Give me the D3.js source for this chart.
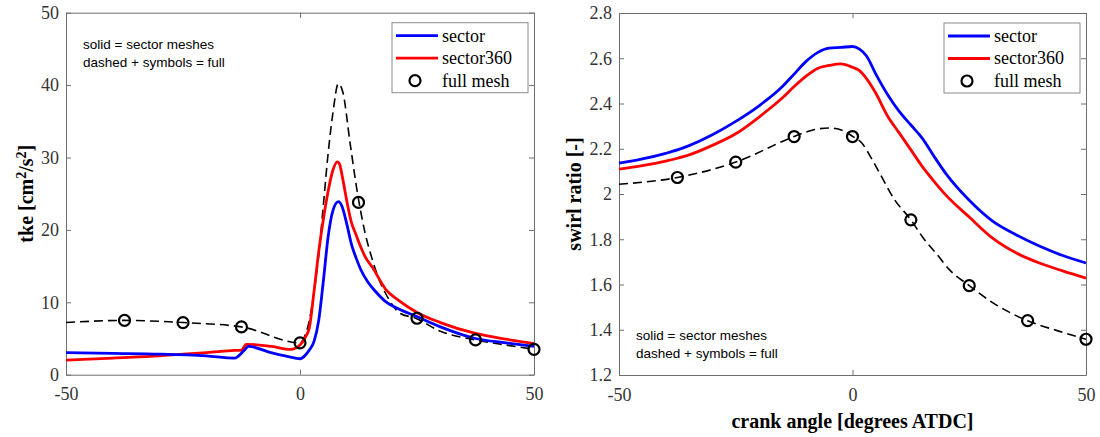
<!DOCTYPE html>
<html>
<head>
<meta charset="utf-8">
<script src="https://cdn.jsdelivr.net/npm/d3@7"></script>
<style>
body { margin: 0; background: #fff; }
</style>
</head>
<body>
<div id="chart"></div>
<script>
// ---- data ----
var seriesNames = ["sector", "sector360", "full mesh"]

// left panel: tke
var tkeSectorX = [-50, -40, -30, -20, -14, -12, -11, -6, -1, 0, 1, 2, 3, 4, 5, 6, 7, 8.2, 9, 10, 11, 12, 13, 14.5, 16, 18.3, 21, 24.7, 30, 37.5, 44, 50]
var tkeSectorY = [3.05, 2.95, 2.85, 2.6, 2.3, 3.3, 3.9, 3.0, 2.3, 2.2, 2.6, 3.4, 4.6, 7.5, 13.0, 19.0, 22.6, 23.9, 23.2, 20.8, 18.0, 16.1, 14.5, 12.8, 11.6, 10.1, 9.1, 8.1, 6.6, 5.0, 4.4, 3.9]

var tkeSector360X = [-50, -40, -30, -25, -20, -14, -12.5, -11.5, -6, -2, 0, 1, 2, 3, 4, 5, 6, 7, 8, 8.5, 9, 10, 11, 12, 13, 14, 15.5, 18.3, 21, 25, 30, 37.5, 44, 50]
var tkeSector360Y = [2.0, 2.3, 2.6, 2.85, 3.05, 3.35, 3.4, 4.2, 3.9, 3.5, 4.1, 5.0, 6.5, 11.5, 17.0, 21.5, 25.3, 28.2, 29.4, 29.0, 27.5, 24.0, 21.0, 19.3, 17.6, 16.2, 14.8, 11.8, 10.3, 8.6, 7.2, 5.7, 4.9, 4.3]

var tkeFullX = [-50, -37.5, -25, -12.5, 0, 1, 2, 3, 4, 5, 6, 7, 8.2, 9.2, 10.7, 12.3, 13.9, 15.5, 16.4, 19.1, 21.3, 24.7, 30, 37.5, 44, 50]
var tkeFullY = [7.2, 7.5, 7.2, 6.6, 4.4, 5.3, 7.5, 11.5, 16.5, 23.5, 30.5, 36.0, 40.2, 38.9, 32.0, 25.0, 19.6, 15.8, 14.0, 10.3, 8.5, 7.8, 6.0, 4.8, 4.1, 3.5]

var tkeMarkX = [-37.5, -25, -12.5, 0, 12.5, 25, 37.5, 50]
var tkeMarkY = [7.5, 7.2, 6.6, 4.4, 23.8, 7.8, 4.8, 3.5]

// right panel: swirl ratio
var swirlX = [-50, -45, -40, -37.5, -35, -30, -25, -20, -15, -12.5, -10, -7.5, -5, -2.5, 0, 1.5, 3, 5, 7.5, 10, 12.5, 15, 17.5, 20, 25, 30, 35, 40, 45, 50]
var swirlSector = [2.136, 2.155, 2.18, 2.195, 2.214, 2.262, 2.321, 2.39, 2.475, 2.53, 2.585, 2.625, 2.645, 2.648, 2.652, 2.64, 2.61, 2.53, 2.44, 2.365, 2.305, 2.245, 2.165, 2.09, 1.972, 1.88, 1.82, 1.77, 1.728, 1.695]
var swirlSector360 = [2.110, 2.125, 2.145, 2.158, 2.173, 2.215, 2.266, 2.34, 2.425, 2.475, 2.52, 2.555, 2.568, 2.575, 2.56, 2.545, 2.51, 2.445, 2.345, 2.27, 2.195, 2.12, 2.055, 1.995, 1.898, 1.805, 1.74, 1.695, 1.66, 1.628]

var swirlFullX = [-50, -37.5, -25, -12.5, -9, -5, -2, 0, 2, 4, 6, 9, 12.5, 15, 18, 21, 25, 30, 37.5, 44, 50]
var swirlFullY = [2.043, 2.073, 2.141, 2.254, 2.28, 2.292, 2.28, 2.255, 2.225, 2.16, 2.085, 1.975, 1.886, 1.81, 1.735, 1.66, 1.595, 1.52, 1.44, 1.395, 1.358]

var swirlMarkX = [-37.5, -25, -12.5, 0, 12.5, 25, 37.5, 50]
var swirlMarkY = [2.073, 2.141, 2.254, 2.254, 1.886, 1.595, 1.440, 1.358]

var xTicks = [-50, 0, 50]
var xTickLabels = ["-50", "0", "50"]
var tkeTicks = [0, 10, 20, 30, 40, 50]
var tkeTickLabels = ["0", "10", "20", "30", "40", "50"]
var swirlTicks = [1.2, 1.4, 1.6, 1.8, 2.0, 2.2, 2.4, 2.6, 2.8]
var swirlTickLabels = ["1.2", "1.4", "1.6", "1.8", "2", "2.2", "2.4", "2.6", "2.8"]

var noteLines = ["solid = sector meshes", "dashed + symbols = full"]

// ---- drawing ----
var W = 1100, H = 437
var serif = "Liberation Serif, Times New Roman, serif"
var sans = "Liberation Sans, Arial, sans-serif"

var svg = d3.select("#chart").append("svg")
    .attr("width", W)
    .attr("height", H)

function zip(xs, ys) {
    return xs.map(function(x, i) { return [x, ys[i]] })
}

function drawPanel(p) {
    var x = d3.scaleLinear().domain([-50, 50]).range([p.left, p.right])
    var y = d3.scaleLinear().domain(p.yDomain).range([p.bottom, p.top])
    var g = svg.append("g")

    function styleAxis(sel) {
        sel.attr("font-family", serif).attr("font-size", 18)
        sel.select(".domain").attr("stroke", "#6e6e6e").attr("stroke-width", 1)
        sel.selectAll(".tick line").attr("stroke", "#6e6e6e").attr("stroke-width", 1)
        sel.selectAll("text")
            .attr("font-family", serif)
            .attr("font-size", 18)
            .attr("fill", "#333")
    }

    g.append("g")
        .attr("transform", "translate(0," + p.bottom + ")")
        .call(d3.axisBottom(x).tickValues(xTicks).tickSize(-5).tickSizeOuter(0).tickPadding(13)
            .tickFormat(function(d, i) { return xTickLabels[i] }))
        .call(styleAxis)
    g.append("g")
        .attr("transform", "translate(0," + p.top + ")")
        .call(d3.axisTop(x).tickValues(xTicks).tickSize(-5).tickSizeOuter(0).tickFormat(""))
        .call(styleAxis)
    g.append("g")
        .attr("transform", "translate(" + p.left + ",0)")
        .call(d3.axisLeft(y).tickValues(p.yTicks).tickSize(-5).tickSizeOuter(0).tickPadding(7)
            .tickFormat(function(d, i) { return p.yTickLabels[i] }))
        .call(styleAxis)
    g.append("g")
        .attr("transform", "translate(" + p.right + ",0)")
        .call(d3.axisRight(y).tickValues(p.yTicks).tickSize(-5).tickSizeOuter(0).tickFormat(""))
        .call(styleAxis)

    var line = d3.line()
        .x(function(d) { return x(d[0]) })
        .y(function(d) { return y(d[1]) })
        .curve(d3.curveMonotoneX)

    g.append("path")
        .datum(p.full)
        .attr("d", line)
        .attr("fill", "none")
        .attr("stroke", "#000")
        .attr("stroke-width", 1.6)
        .attr("stroke-dasharray", "9,5")

    g.append("path")
        .datum(p.sector360)
        .attr("d", line)
        .attr("fill", "none")
        .attr("stroke", "#ff0000")
        .attr("stroke-width", 2.8)

    g.append("path")
        .datum(p.sector)
        .attr("d", line)
        .attr("fill", "none")
        .attr("stroke", "#0000ff")
        .attr("stroke-width", 2.8)

    g.selectAll(".mark")
        .data(p.marks)
        .enter().append("circle")
        .attr("class", "mark")
        .attr("cx", function(d) { return x(d[0]) })
        .attr("cy", function(d) { return y(d[1]) })
        .attr("r", 5.5)
        .attr("fill", "none")
        .attr("stroke", "#000")
        .attr("stroke-width", 2.2)

    // legend
    var lx = p.right - 142, ly = p.top + 10
    var leg = g.append("g").attr("transform", "translate(" + lx + "," + ly + ")")
    leg.append("rect")
        .attr("width", 136).attr("height", 70)
        .attr("fill", "#fff")
        .attr("stroke", "#8a8a8a")
        .attr("stroke-width", 1)
    var legColors = ["#0000ff", "#ff0000", null]
    seriesNames.forEach(function(name, i) {
        var cy = 13 + i * 22.5
        if (legColors[i]) {
            leg.append("line")
                .attr("x1", 4).attr("x2", 46)
                .attr("y1", cy).attr("y2", cy)
                .attr("stroke", legColors[i])
                .attr("stroke-width", 2.8)
        } else {
            leg.append("circle")
                .attr("cx", 23).attr("cy", cy).attr("r", 5.5)
                .attr("fill", "none").attr("stroke", "#000").attr("stroke-width", 2.2)
        }
        leg.append("text")
            .attr("x", 50).attr("y", cy)
            .attr("dy", "0.33em")
            .attr("font-family", serif)
            .attr("font-size", 18)
            .attr("fill", "#000")
            .text(name)
    })

    // note text
    noteLines.forEach(function(t, i) {
        g.append("text")
            .attr("x", p.left + 17)
            .attr("y", p.noteY + i * 18.5)
            .attr("dy", "0.35em")
            .attr("font-family", sans)
            .attr("font-size", 13.5)
            .attr("fill", "#000")
            .text(t)
    })

    // y title
    var yt = g.append("text")
        .attr("transform", "translate(" + (p.left - p.titleOffset) + "," + ((p.top + p.bottom) / 2) + ") rotate(-90)")
        .attr("text-anchor", "middle")
        .attr("dy", "0.35em")
        .attr("font-family", serif)
        .attr("font-size", 20)
        .attr("font-weight", "bold")
        .attr("fill", "#000")
    p.yTitle.forEach(function(part) {
        var t = yt.append("tspan").text(part[0])
        if (part[1]) t.attr("baseline-shift", "super").attr("font-size", 14)
    })
    return g
}

drawPanel({
    left: 66, right: 534, top: 12.7, bottom: 374.7,
    yDomain: [0, 50], yTicks: tkeTicks, yTickLabels: tkeTickLabels,
    sector: zip(tkeSectorX, tkeSectorY),
    sector360: zip(tkeSector360X, tkeSector360Y),
    full: zip(tkeFullX, tkeFullY),
    marks: zip(tkeMarkX, tkeMarkY),
    noteY: 44,
    titleOffset: 40,
    yTitle: [["tke [cm"], ["2", true], ["/s"], ["2", true], ["]"]]
})

drawPanel({
    left: 619, right: 1086, top: 13, bottom: 375,
    yDomain: [1.2, 2.8], yTicks: swirlTicks, yTickLabels: swirlTickLabels,
    sector: zip(swirlX, swirlSector),
    sector360: zip(swirlX, swirlSector360),
    full: zip(swirlFullX, swirlFullY),
    marks: zip(swirlMarkX, swirlMarkY),
    noteY: 335,
    titleOffset: 45.5,
    yTitle: [["swirl ratio [-]"]]
})

svg.append("text")
    .attr("x", (619 + 1086) / 2)
    .attr("y", 428)
    .attr("text-anchor", "middle")
    .attr("font-family", serif)
    .attr("font-size", 20)
    .attr("font-weight", "bold")
    .attr("fill", "#000")
    .text("crank angle [degrees ATDC]")
</script>
</body>
</html>
